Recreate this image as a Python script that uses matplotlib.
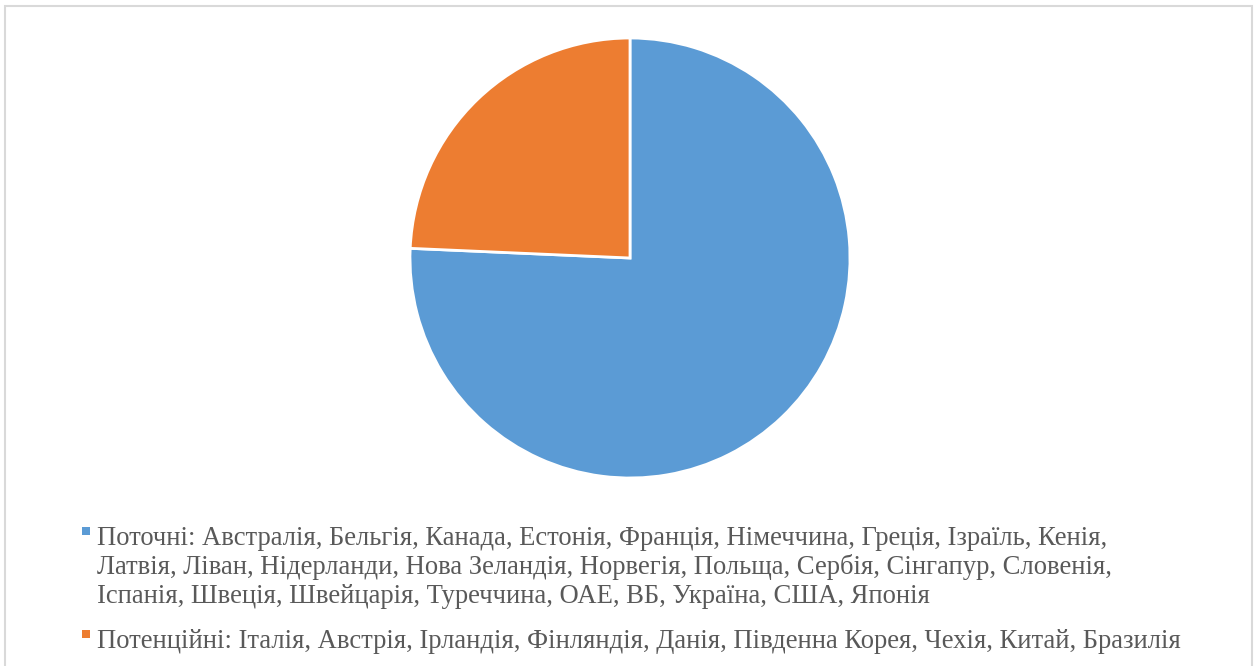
import matplotlib.pyplot as plt
from matplotlib.patches import Rectangle

# дані
labels = ['Поточні', 'Потенційні']
values = [75.7, 24.3]
colors = ['#5b9bd5', '#ed7d31']
countries = [
    ['Австралія', 'Бельгія', 'Канада', 'Естонія', 'Франція', 'Німеччина', 'Греція', 'Ізраїль', 'Кенія',
     'Латвія', 'Ліван', 'Нідерланди', 'Нова Зеландія', 'Норвегія', 'Польща', 'Сербія', 'Сінгапур', 'Словенія',
     'Іспанія', 'Швеція', 'Швейцарія', 'Туреччина', 'ОАЕ', 'ВБ', 'Україна', 'США', 'Японія'],
    ['Італія', 'Австрія', 'Ірландія', 'Фінляндія', 'Данія', 'Південна Корея', 'Чехія', 'Китай', 'Бразилія'],
]
# розриви рядків як в оригіналі
breaks = [[9, 18], []]

W, H = 1259, 666
fig = plt.figure(figsize=(W / 100, H / 100), dpi=100)

# рамка
fig.patches.append(Rectangle((5 / W, -0.05), 1247 / W, (H - 6) / H + 0.05, transform=fig.transFigure,
                             fill=False, edgecolor='#d9d9d9', linewidth=1.5))

# кругова діаграма
cx, cy, r = 630, 258, 220
ax = fig.add_axes([(cx - r) / W, (H - cy - r) / H, 2 * r / W, 2 * r / H])
ax.pie(values, colors=colors, startangle=90, counterclock=False,
       wedgeprops=dict(edgecolor='white', linewidth=2))
ax.set_xlim(-1, 1)
ax.set_ylim(-1, 1)
ax.set_aspect('equal')
ax.axis('off')

# легенда
baselines = [545, 648]
line_h = 29
for lab, cs, br, col, yb in zip(labels, countries, breaks, colors, baselines):
    parts = []
    prev = 0
    for b in br + [len(cs)]:
        parts.append(', '.join(cs[prev:b]))
        prev = b
    lines = (lab + ': ' + ',\n'.join(parts)).split('\n')
    for i, ln in enumerate(lines):
        fig.text(97 / W, 1 - (yb + i * line_h) / H, ln, fontsize=19.2, family='Liberation Serif',
                 color='#595959', va='baseline', ha='left')
    fig.patches.append(Rectangle((82 / W, 1 - (yb - 10) / H), 8 / W, 8 / H, transform=fig.transFigure,
                                 facecolor=col, edgecolor='none'))

fig.savefig('out.png', dpi=100)
